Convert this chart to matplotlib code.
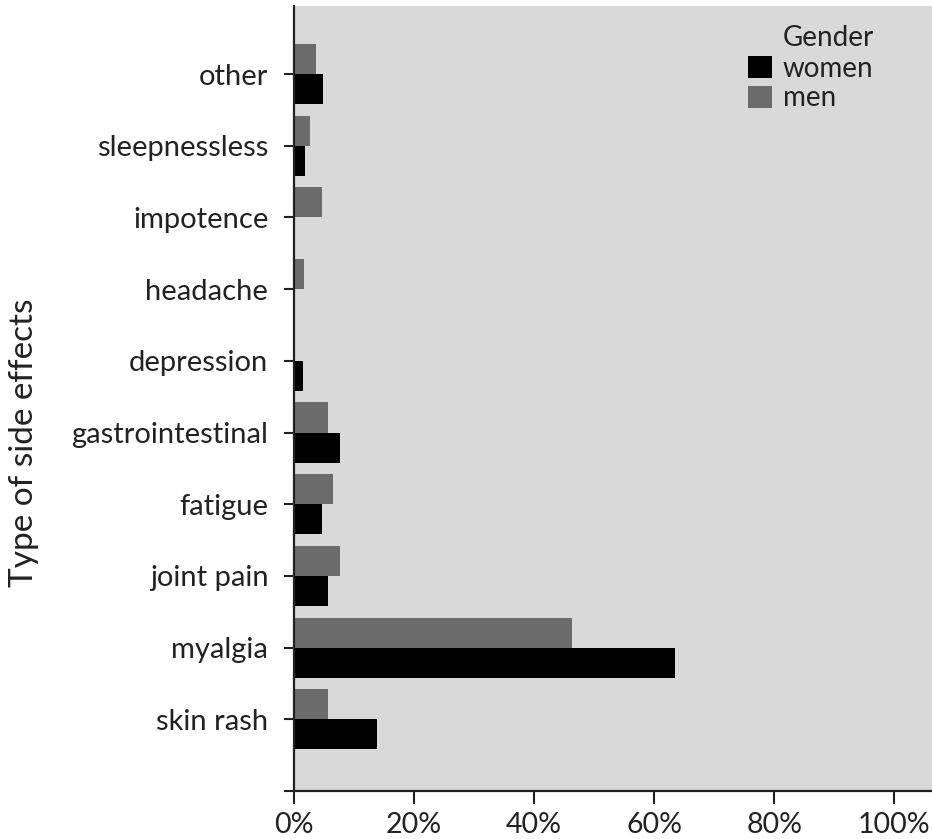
import matplotlib
matplotlib.use("Agg")
import matplotlib.pyplot as plt
import numpy as np

categories = ["skin rash", "myalgia", "joint pain", "fatigue", "gastrointestinal",
              "depression", "headache", "impotence", "sleepnessless", "other"]
women = [13.8, 63.5, 5.7, 4.7, 7.7, 1.5, 0.0, 0.0, 1.9, 4.8]
men = [5.6, 46.4, 7.6, 6.5, 5.6, 0.0, 1.7, 4.6, 2.7, 3.7]
xticks = [0, 20, 40, 60, 80, 100]
xticklabels = ["0%", "20%", "40%", "60%", "80%", "100%"]

plt.rcParams['font.family'] = ['Lato', 'DejaVu Sans']
TXT = "#222222"

fig = plt.figure(figsize=(9.32, 8.39), dpi=100)
ax = fig.add_axes([294/932, 48/839, 1 - 294/932, (791-6)/839])
ax.set_facecolor("#d9d9d9")

y = np.arange(len(categories))
h = 0.42
ax.barh(y - h/2, women, height=h, color="#000000", label="women")
ax.barh(y + h/2, men, height=h, color="#6b6b6b", label="men")

ax.set_xlim(0, 106.3)
ax.set_ylim(-1, 9.95)
ax.set_yticks(list(y) + [-1])
ax.set_yticklabels(categories + [""])
ax.set_xticks(xticks)
ax.set_xticklabels(xticklabels)
ax.tick_params(axis='both', width=1.5, color=TXT, labelcolor=TXT)
ax.tick_params(axis='y', pad=11, length=7.5, labelsize=21)
ax.tick_params(axis='x', pad=6, length=9, labelsize=20.5)
for s in ["top", "right"]:
    ax.spines[s].set_visible(False)
for s in ["left", "bottom"]:
    ax.spines[s].set_linewidth(1.6)
    ax.spines[s].set_color(TXT)

ax.set_ylabel("Type of side effects", fontsize=24, color=TXT)
ax.yaxis.set_label_coords(-0.40, 0.443)

leg = ax.legend(loc="upper left", bbox_to_anchor=(748/932, 1 - 56/839),
                bbox_transform=fig.transFigure, frameon=False, fontsize=20,
                handlelength=0.85, handleheight=0.85,
                handletextpad=0.4, labelspacing=0.12, borderaxespad=0, borderpad=0)
for t in leg.get_texts():
    t.set_color(TXT)
fig.text(783/932, 1 - 46/839, "Gender", fontsize=20, color=TXT, ha="left", va="baseline")

fig.savefig("out.png", dpi=100)
